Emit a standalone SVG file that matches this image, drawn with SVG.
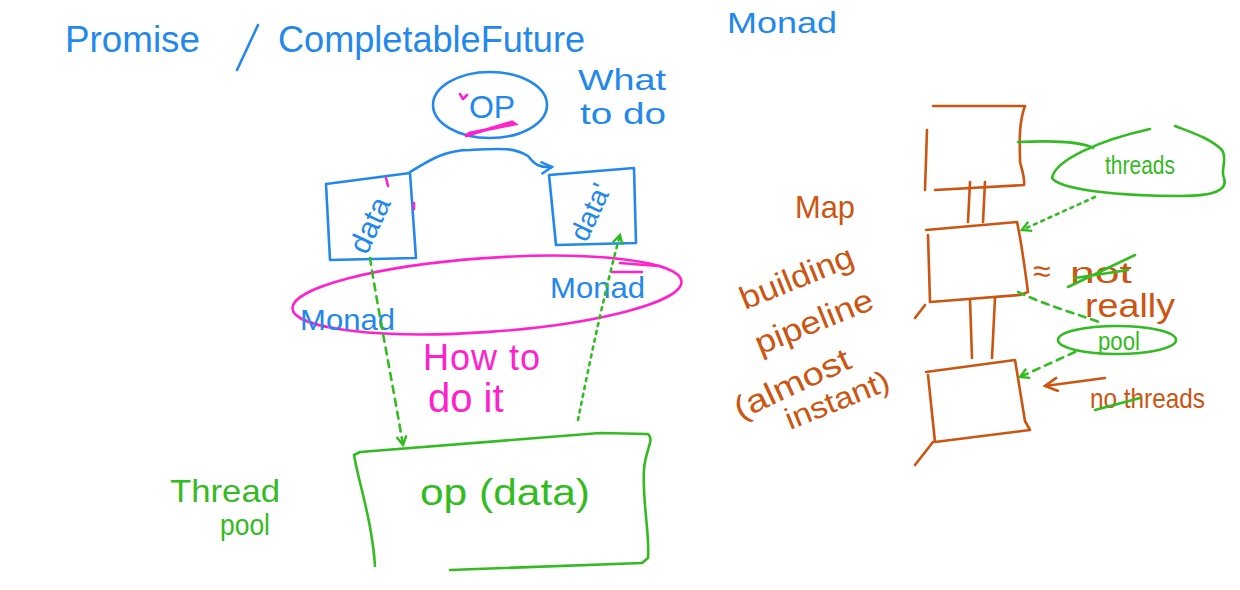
<svg xmlns="http://www.w3.org/2000/svg" width="1240" height="590" viewBox="0 0 1240 590">
<style>
.s{fill:none;stroke-width:2.6;stroke-linecap:round;stroke-linejoin:round}
.b{stroke:#2288ee}.m{stroke:#ff22cc}.g{stroke:#33bb22}.o{stroke:#cc5511}
.dash{stroke-dasharray:7 6}.dot{stroke-dasharray:3 5}
text{font-family:"Liberation Sans",Arial,sans-serif}
.tb{fill:#2288ee}.tm{fill:#ff22cc}.tg{fill:#33bb22}.to{fill:#cc5511}
</style>
<defs>
<marker id="ag" markerWidth="12" markerHeight="12" refX="10" refY="6" orient="auto" markerUnits="userSpaceOnUse"><path d="M1,1 L10,6 L1,11" fill="none" stroke="#33bb22" stroke-width="2.4"/></marker>
<marker id="ab" markerWidth="14" markerHeight="14" refX="12" refY="7" orient="auto" markerUnits="userSpaceOnUse"><path d="M1,1 L12,7 L1,13" fill="none" stroke="#2288ee" stroke-width="2.4"/></marker>
<marker id="ao" markerWidth="16" markerHeight="16" refX="14" refY="8" orient="auto" markerUnits="userSpaceOnUse"><path d="M1,1 L14,8 L1,15" fill="none" stroke="#cc5511" stroke-width="2.6"/></marker>
</defs>
<rect width="1240" height="590" fill="#ffffff"/>

<g id="title">
<text x="65" y="52" font-size="36" class="tb" textLength="135" lengthAdjust="spacingAndGlyphs">Promise</text>
<path class="s b" d="M258,25 L237,70"/>
<text x="278" y="52" font-size="36" class="tb" textLength="307" lengthAdjust="spacingAndGlyphs">CompletableFuture</text>
<text x="727" y="33" font-size="30" class="tb" textLength="110" lengthAdjust="spacingAndGlyphs">Monad</text>
</g>

<g id="op">
<ellipse cx="490" cy="105" rx="57" ry="33" class="s b"/>
<text x="492" y="118" font-size="32" class="tb" text-anchor="middle">OP</text>
<path class="s m" d="M460,94 l3,5 l4,-4" />
<path d="M465,136 L512,122 L515,124 L470,133 Z" fill="#ff22cc" stroke="#ff22cc" stroke-width="3"/>
</g>

<g id="what-to-do">
<text x="578" y="90" font-size="30" class="tb" textLength="88" lengthAdjust="spacingAndGlyphs">What</text>
<text x="580" y="124" font-size="30" class="tb" textLength="86" lengthAdjust="spacingAndGlyphs">to do</text>
</g>

<g id="data">
<path class="s b" d="M326,184 L410,173 L416,258 L330,260 L326,184"/>
<text x="370" y="235" font-size="30" class="tb" text-anchor="middle" transform="rotate(-65 370 225)">data</text>
<path class="s m" d="M386,178 l2,8 M414,203 l0,6"/>
</g>

<g id="data-prime">
<path class="s b" d="M549,175 L634,168 L636,243 L556,245 L549,175"/>
<text x="590" y="222" font-size="28" class="tb" text-anchor="middle" transform="rotate(-65 590 212)">data'</text>
</g>

<g id="monad-ellipse">
<ellipse cx="487" cy="295" rx="195" ry="37" transform="rotate(-4 487 295)" class="s m"/>
<path class="s m" d="M620,263 L658,266 M612,272 L642,272"/>
<text x="300" y="330" font-size="30" class="tb" textLength="95" lengthAdjust="spacingAndGlyphs">Monad</text>
<text x="550" y="298" font-size="30" class="tb" textLength="95" lengthAdjust="spacingAndGlyphs">Monad</text>
</g>

<g id="how-to-do-it">
<text x="423" y="370" font-size="36" class="tm" textLength="117" lengthAdjust="spacing">How to</text>
<text x="428" y="412" font-size="40" class="tm">do it</text>
</g>

<g id="thread-pool">
<text x="170" y="502" font-size="32" class="tg" textLength="110" lengthAdjust="spacingAndGlyphs">Thread</text>
<text x="220" y="535" font-size="30" class="tg" textLength="50" lengthAdjust="spacingAndGlyphs">pool</text>
</g>

<g id="op-data">
<path class="s g" d="M375,566 C372,520 358,480 354,455 L360,452 L600,433 L648,434 C655,440 645,450 644,470 C642,500 650,535 648,558 L642,563 L450,570"/>
<text x="505" y="505" font-size="36" class="tg" text-anchor="middle" textLength="170" lengthAdjust="spacingAndGlyphs">op (data)</text>
</g>

<g id="pipeline">
<path class="s o" d="M927,130 L925,190 M933,106 L1025,106 C1018,125 1020,145 1020,162 C1022,170 1025,178 1024,185 L935,190"/>
<path class="s o" d="M926,230 L1017,222 C1022,245 1025,270 1028,292 L1020,295 L930,302 L928,235 M925,305 L915,318"/>
<path class="s o" d="M926,372 L1015,360 L1025,421 L1030,430 L935,442 L928,375 M933,442 L915,465"/>
<path class="s o" d="M968,222 L970,182 M983,222 L985,182 M972,358 L970,300 M992,358 L995,298"/>
</g>

<g id="map">
<text x="795" y="218" font-size="32" class="to" textLength="60" lengthAdjust="spacingAndGlyphs">Map</text>
<text x="745" y="310" font-size="32" class="to" textLength="120" lengthAdjust="spacingAndGlyphs" transform="rotate(-22 745 310)">building</text>
<text x="760" y="355" font-size="32" class="to" textLength="125" lengthAdjust="spacingAndGlyphs" transform="rotate(-22 760 355)">pipeline</text>
<text x="740" y="420" font-size="32" class="to" textLength="125" lengthAdjust="spacingAndGlyphs" transform="rotate(-25 740 420)">(almost</text>
<text x="790" y="430" font-size="30" class="to" textLength="110" lengthAdjust="spacingAndGlyphs" transform="rotate(-22 790 430)">instant)</text>
</g>

<g id="threads">
<path class="s g" d="M1150,129 C1100,140 1055,160 1052,178 C1060,190 1120,196 1180,196 C1215,196 1228,190 1224,178 C1220,170 1228,160 1222,150 C1210,138 1190,132 1175,126"/>
<text x="1105" y="174" font-size="26" class="tg" textLength="70" lengthAdjust="spacingAndGlyphs">threads</text>
</g>

<g id="not-really">
<text x="1033" y="282" font-size="32" class="to">≈</text>
<text x="1070" y="283" font-size="30" class="to" textLength="62" lengthAdjust="spacingAndGlyphs">not</text>
<path class="s g" d="M1068,287 L1135,255 M1075,278 L1128,270"/>
<text x="1085" y="317" font-size="34" class="to" textLength="90" lengthAdjust="spacingAndGlyphs">really</text>
</g>

<g id="pool">
<ellipse cx="1117" cy="340" rx="59" ry="14" class="s g"/>
<text x="1098" y="350" font-size="26" class="tg" textLength="42" lengthAdjust="spacingAndGlyphs">pool</text>
</g>

<g id="no-threads">
<text x="1090" y="408" font-size="28" class="to" textLength="115" lengthAdjust="spacingAndGlyphs">no threads</text>
<path class="s g" d="M1095,410 L1140,398"/>
</g>

<g id="connectors">
<path class="s b" d="M410,172 C430,160 445,150 470,150 C505,148 515,148 528,156 C535,165 540,168 552,167" marker-end="url(#ab)"/>
<path class="s g dash" d="M370,258 C378,310 392,380 403,445" marker-end="url(#ag)"/>
<path class="s g dot" d="M578,420 C590,360 605,290 620,235" marker-end="url(#ag)"/>
<path class="s g" d="M1018,142 C1060,140 1085,143 1093,148"/>
<path class="s g dot" d="M1095,197 L1022,230" marker-end="url(#ag)"/>
<path class="s g dash" d="M1018,292 C1045,305 1080,315 1102,323"/>
<path class="s g dash" d="M1075,352 L1020,377" marker-end="url(#ag)"/>
<path class="s o" d="M1105,378 L1045,386" marker-end="url(#ao)"/>
</g>
</svg>
